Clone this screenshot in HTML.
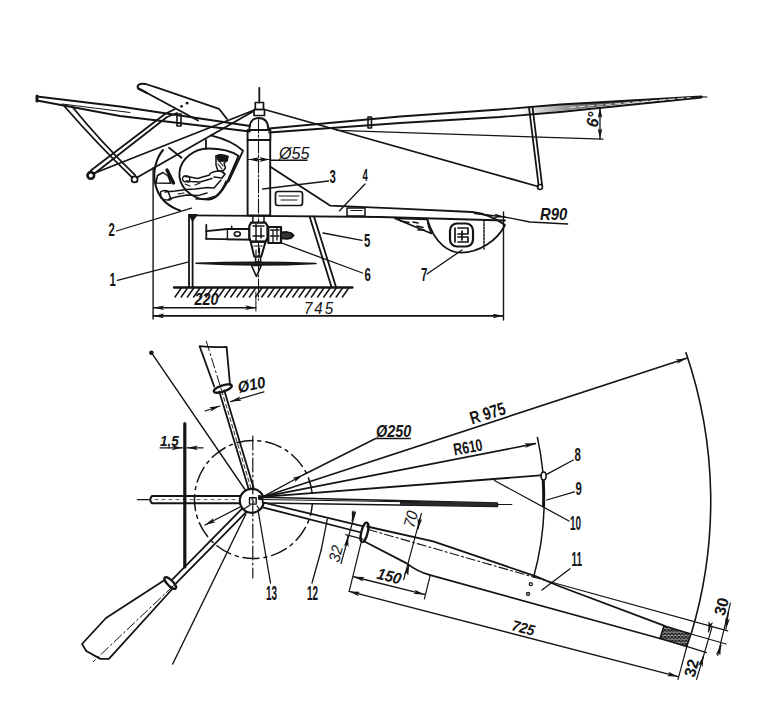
<!DOCTYPE html>
<html><head><meta charset="utf-8">
<style>
html,body{margin:0;padding:0;background:#fff;}
svg{display:block;}
text{font-family:"Liberation Sans",sans-serif;fill:#141414;}
</style></head>
<body>
<svg width="780" height="711" viewBox="0 0 780 711">
<defs>
<marker id="ar" viewBox="0 0 10 4.4" refX="10" refY="2.2" markerWidth="11" markerHeight="4.8" orient="auto-start-reverse" markerUnits="userSpaceOnUse">
<path d="M0,0 L10,2.2 L0,4.4 L2.5,2.2 Z" fill="#141414"/>
</marker>
<pattern id="hatch" width="3.5" height="3.5" patternUnits="userSpaceOnUse">
<rect width="3.5" height="3.5" fill="#bbb"/>
<path d="M0,0 L3.5,3.5 M3.5,0 L0,3.5" stroke="#141414" stroke-width="1.2"/>
</pattern>
<linearGradient id="bladeg" gradientUnits="userSpaceOnUse" x1="520" y1="0" x2="600" y2="0">
<stop offset="0" stop-color="#4a4a4a" stop-opacity="0"/>
<stop offset="1" stop-color="#4a4a4a" stop-opacity="1"/>
</linearGradient>
</defs>
<rect width="780" height="711" fill="#fff"/>
<g fill="none" stroke="#141414" stroke-width="1.8" stroke-linecap="round" stroke-linejoin="round">
<!-- ===== SIDE VIEW ===== -->
<!-- left blade -->
<path d="M37,96.5 L120,106.5 L250,126"/>
<path d="M37,100.5 L120,116 L250,131.5"/>
<path d="M62,104 L130,112.5" stroke-width="1"/>
<path d="M37,96 L37,101" stroke-width="3"/>
<rect x="177" y="114" width="4" height="12" stroke-width="1.6"/>
<!-- right blade -->
<path d="M520,107.5 L630,100 L701.5,96.3 L640,102 L520,115.3 Z" fill="url(#bladeg)" stroke="none"/>
<path d="M269,128.5 L400,116.5 L500,109.5 L560,104.5 L701.5,96.3"/>
<path d="M269,132.5 L400,123 L500,117 L560,112 L701.5,97.5"/>
<path d="M570,107.5 L690,97.5" stroke="#fff" stroke-width="0.8" stroke-dasharray="6,3"/>
<path d="M701.5,96.8 L707,97" stroke-width="1.2"/>
<rect x="368" y="117" width="3.5" height="11" stroke-width="1.6"/>
<!-- paddle blade -->
<path d="M145.5,84 L157,87.7 L219,108.8 L227,119"/>
<path d="M139,88.5 L147,93 L198,120.5"/>
<path d="M145.5,84 Q136,83 138,88.5 L147,93" stroke-width="2"/>
<circle cx="181.5" cy="106.3" r="1.4" fill="#141414" stroke="none"/>
<circle cx="187.1" cy="103.2" r="1.4" fill="#141414" stroke="none"/>
<!-- left struts -->
<path d="M64.2,106 Q95.9,142.6 132.3,177.7"/>
<path d="M72.9,107.5 Q101,142.1 135.4,175.4"/>
<path d="M90.8,170.5 L165,114 L175,109"/>
<path d="M94.5,173.5 L167,117 L177,113"/>
<circle cx="134.6" cy="179.4" r="3" stroke-width="1.7"/>
<circle cx="90.8" cy="175.4" r="3.3" stroke-width="2.6"/>
<path d="M93.5,173.5 L254.5,110"/>
<path d="M137,177.5 L253,111.5"/>
<!-- hub -->
<path d="M259.3,88 V102.5"/>
<rect x="255.3" y="102.5" width="8.2" height="7" stroke-width="1.7"/>
<rect x="254" y="109.5" width="10.5" height="6" stroke-width="1.7"/>
<path d="M249.3,130 Q249.3,118 258.7,118 Q268.3,118 268.3,130" stroke-width="1.9"/>
<rect x="247.6" y="130" width="22.8" height="10" stroke-width="1.9"/>
<rect x="247.6" y="140" width="22.6" height="75.5" stroke-width="1.9"/>
<path d="M258.5,119 V300" stroke-width="1.1" stroke-dasharray="14,2,2,2"/>
<!-- right lines -->
<path d="M264.5,109.5 L538,186.5"/>
<path d="M529,107.3 L538.5,184.5"/>
<path d="M532.5,107 L542,184.5"/>
<circle cx="540" cy="187" r="2.5" stroke-width="1.6"/>
<path d="M337,130.4 L603,139.2" stroke-width="1.3"/>
<path d="M600,107.5 V139" marker-start="url(#ar)" marker-end="url(#ar)" stroke-width="1.3"/>
<!-- fuselage -->
<path d="M163,150 C149,167 150,200 180,210.5" stroke-width="2"/>
<path d="M211,135.4 Q233,141 243,150.8 L228.5,181.5" stroke-width="1.9"/>
<path d="M169,147.7 L181.5,157.7"/>
<path d="M206,140 V148.5"/>
<path d="M209,199.5 C190,200 178,185 179.5,172 C181,158 195,148.5 208,148.5 C222,148.5 233,152 238.5,156 L227.5,181.5 C222,192 216,199 209,199.5" stroke-width="1.9"/>
<!-- pilot -->
<path d="M216,156 Q221,153.5 228,156.5 L227,161 L224,163 L225.5,168 L223,171 L218,171 L216,165 Z" stroke-width="1.5"/>
<path d="M216,156 Q221,153.5 228,156.5 L227,161 L219,161.5 Z" fill="#141414" stroke-width="1"/>
<path d="M218,164 L222,169 M220,162 L223,166" stroke-width="1.1"/>
<path d="M209.7,174 Q214,170.5 221,171 L225,174 L222,178 L214,177" stroke-width="1.6"/>
<path d="M209.7,175 L197.4,178.5 L190,177 L185,176.5 M212,178.5 L200,182 L191,181.5 L186,181" stroke-width="1.5"/>
<path d="M184,176 Q181,178.5 184,181.5 L189,182 Q191,178 188,176 Z" stroke-width="1.4"/>
<path d="M226,181 Q223,190 216,196 L206,199 L196,199" stroke-width="1.5"/>
<path d="M221,180 L214,188 L207.7,187.5 L195,189 L187,189.5 L175,191 L165,192" stroke-width="1.5"/>
<path d="M207,193 L198,195.6 L187,195 L176,197 L169,199" stroke-width="1.5"/>
<path d="M160.5,192 Q163,189.5 168,191 L171,199.5 Q165,201 161,198 Z" stroke-width="1.5"/>
<path d="M195,185 L200,183 M185,184 L190,186 M178,194 L184,193" stroke-width="1.1"/>
<path d="M167,170 L173.5,183" stroke-width="3.4"/>
<path d="M156,183 L157.5,175.5 L163,172.5 L168,176 L170.8,183.3 Z" stroke-width="1.5"/>
<!-- fuselage body -->
<path d="M270.4,166.7 L330,205.6 L400,208.7 L472,212 Q490,214 505,225"/>
<path d="M190,215.4 L380,217 L505,220.5"/>
<path d="M427.3,219.2 C435,245 450,252.7 461,252.7 C480,252.7 497,240 504.6,226"/>
<path d="M484,220 V249" stroke-dasharray="2,1.5" stroke-width="1.5"/>
<rect x="450" y="223.5" width="23" height="23" rx="7" stroke-width="2.2"/>
<path d="M455,228 V242 M458,228 H468 V234 H458 M458,237 H468 V242 H458 M462,231 V240" stroke-width="1.7"/>
<path d="M395,218.5 L427.3,219.5 Q428,227 431.5,233.5 Z" stroke-width="1.6"/>
<path d="M401,221 L409,222.5 M413,222 L418,223 M417,226 L423,227.5 M418,230 L424,230" stroke-width="1.6"/>
<rect x="275.5" y="191.5" width="27" height="14" rx="2.5" stroke-width="1.7"/>
<path d="M279,196 H299 M281,200 H297" stroke-width="1"/>
<rect x="347" y="208" width="18" height="8" stroke-width="1.5"/>
<path d="M351,210.5 H362" stroke-width="1.2"/>
<!-- landing gear -->
<path d="M189,287 V215 M192.6,287 V220" stroke-width="1.8"/>
<path d="M189,214.6 L197,214.6 L192.6,221 Z" fill="#141414" stroke-width="1.2"/>
<path d="M309.6,216.5 L331.5,287"/>
<path d="M314,216.5 L336,287"/>
<path d="M174,287.5 H352.5" stroke-width="2.3"/>
<path d="M175,297 L181,288.5 M181.2,297 L187.2,288.5 M187.4,297 L193.4,288.5 M193.6,297 L199.6,288.5 M199.8,297 L205.8,288.5 M206,297 L212,288.5 M212.2,297 L218.2,288.5 M218.4,297 L224.4,288.5 M224.6,297 L230.6,288.5 M230.8,297 L236.8,288.5 M237,297 L243,288.5 M243.2,297 L249.2,288.5 M249.4,297 L255.4,288.5 M255.6,297 L261.6,288.5 M261.8,297 L267.8,288.5 M268,297 L274,288.5 M274.2,297 L280.2,288.5 M280.4,297 L286.4,288.5 M286.6,297 L292.6,288.5 M292.8,297 L298.8,288.5 M299,297 L305,288.5 M305.2,297 L311.2,288.5 M311.4,297 L317.4,288.5 M317.6,297 L323.6,288.5 M323.8,297 L329.8,288.5 M330,297 L336,288.5 M336.2,297 L342.2,288.5 M342.4,297 L348.4,288.5" stroke-width="1.5"/>
<!-- engine -->
<path d="M252.8,215.6 V223 M264,215.6 V223" stroke-width="1.5"/>
<path d="M206.3,224.8 V238.9"/>
<path d="M206.3,231.2 L227.4,229 H249.3 M206.3,238.9 L249.3,239.6"/>
<rect x="227.4" y="229" width="21.9" height="10.6" stroke-width="1.4"/>
<path d="M231.7,226.2 V229" stroke-width="1.4"/>
<ellipse cx="237.3" cy="234" rx="3" ry="2.2" stroke-width="1.6"/>
<path d="M251,222.7 H265.5 L267.5,226 V238 L265.5,241.7 H251 L249.3,238 V226 Z" stroke-width="2.2" fill="#fff"/>
<path d="M253,226 H264 M253,236 H264 M256,224 V241 M261,228 V238" stroke-width="1.5"/>
<rect x="268.3" y="227" width="12.7" height="16" stroke-width="2.2"/>
<path d="M270.5,230 H279 M270.5,236 H279 M273,231 V242 M277,228 V240" stroke-width="1.3"/>
<path d="M281,232.5 L287,232 L291,233 L293.7,235.4 L291,238 L287,238.9 L281,238.3 Z" fill="#333" stroke-width="1.8"/>
<path d="M250.7,241.7 L265.5,241.7 L261.3,256.5 L254.2,256.5 Z" stroke-width="2"/>
<path d="M254,246 H262 M256,250 V255 M259.5,248 V255" stroke-width="1.2"/>
<rect x="255.6" y="256.5" width="5" height="5.5" stroke-width="1.6"/>
<path d="M196,263.2 Q256,261.2 316,263.4 Q256,266.6 196,263.2 Z" fill="#222" stroke-width="1.5"/>
<path d="M251.4,265.5 H261.3 L256.4,276.3 Z" stroke-width="1.6"/>
<!-- leaders side -->
<path d="M117.4,280.4 L187.8,262.2" stroke-width="1.3"/>
<path d="M116.5,231 L191.5,208.2" stroke-width="1.3"/>
<path d="M262.6,189 L328.5,181" stroke-width="1.3"/>
<path d="M365,184 L339.5,210.8" stroke-width="1.3"/>
<path d="M323,233 L362,240.4" stroke-width="1.3"/>
<path d="M280,242.4 L362.5,273" stroke-width="1.3"/>
<path d="M427,274 L462,250" stroke-width="1.3"/>
<!-- dims side -->
<path d="M153.1,168 V319" stroke-width="1.4"/>
<path d="M503.5,212 V320" stroke-width="1.4"/>
<path d="M255.9,292 V311"  stroke-width="1"/>
<path d="M153.5,307.7 H255.9" marker-start="url(#ar)" marker-end="url(#ar)" stroke-width="1.4"/>
<path d="M153.5,315.9 H503.2" marker-start="url(#ar)" marker-end="url(#ar)" stroke-width="1.6"/>
<path d="M270.8,160.2 H307" stroke-width="1.4"/>
<path d="M248.5,159.5 H270" marker-start="url(#ar)" marker-end="url(#ar)" stroke-width="1.2"/>
<path d="M474.6,213.5 L504.6,217" marker-end="url(#ar)" stroke-width="1.3"/>
<path d="M504.6,217 L530,222 L567.7,224" stroke-width="1.3"/>

<!-- ===== TOP VIEW ===== -->
<circle cx="253.5" cy="499.5" r="59" stroke-width="1.5" stroke-dasharray="16,5,3,5"/>
<!-- up blade -->
<path d="M219.3,391.5 L248.8,489.5"/>
<path d="M224.2,390.3 L253.7,488.3"/>
<path d="M221.7,390.8 L251.2,489" stroke-width="0.9" stroke-dasharray="4,3"/>
<ellipse cx="222.8" cy="388.5" rx="9.5" ry="3" transform="rotate(-19 222.8 388.5)" stroke-width="2.3"/>
<path d="M214.2,386.5 L199.6,346.2 Q213,347.5 226.6,346.8 L230,384.5"/>
<path d="M206.3,341.2 L221.7,390.8" stroke-width="1" stroke-dasharray="10,3,2,3"/>
<!-- lower-left blade -->
<path d="M241.8,508.8 L172.2,579.6"/>
<path d="M245.6,512.6 L176,583.4"/>
<ellipse cx="170.2" cy="583" rx="7.7" ry="2.8" transform="rotate(45 170.2 583)" stroke-width="2.3"/>
<path d="M163.9,580.6 L106,618 L82,644 L86.3,651 L100.4,658.9 L108.9,658.9 L172.3,589"/>
<path d="M173.7,585.5 L93.3,661.7" stroke-width="1" stroke-dasharray="10,3,2,3"/>
<!-- left spar -->
<path d="M240,496 H152 Q148.5,499.6 152,503.3 H240" stroke-width="2"/>
<path d="M155,499.6 H238" stroke-width="0.7" stroke-dasharray="3,4"/>
<path d="M137.5,499.6 H149" stroke-width="1.3"/>
<!-- hub -->
<circle cx="251.8" cy="500.8" r="12" stroke-width="2.2" fill="#fff"/>
<rect x="249.5" y="497.8" width="6.7" height="6.3" stroke-width="1.4"/>
<path d="M252,499.5 L254,502 M244,509 L250,505 M257,506 L260,510" stroke-width="1.2"/>
<path d="M258.8,495.5 L264,496.5 L263.5,500 L259,499.5 Z" fill="#141414" stroke-width="1"/>
<!-- right spar -->
<path d="M262.7,497.3 L497.4,503 L497.4,506.5 L262.7,503 Z" fill="#fff" stroke-width="1.6"/>
<path d="M400,500.8 L497.4,503 L497.4,506.5 L400,505.2 Z" fill="#2a2a2a" stroke="none"/>
<path d="M262.7,499.5 L420,502" stroke-width="1.1"/>
<path d="M497.4,504.5 H511.8" stroke-width="1.2"/>
<!-- lower right spar (12) -->
<path d="M262.7,502.3 L362.5,526.2"/>
<path d="M262.7,507.3 L361,532.5"/>
<ellipse cx="364.5" cy="532.3" rx="3.2" ry="10" transform="rotate(14 364.5 532.3)" stroke-width="2.3"/>
<!-- blade 11 -->
<path d="M367,526.5 L433.2,541.3 L535.4,576.2 L560,586.5 L664,625.6"/>
<path d="M364,541.3 L406.7,563.4 Q418,572 430.3,575.2 L660,638.5"/>
<path d="M664,625.8 L691,634 L686.7,646.4 L660,638.5 Z" fill="url(#hatch)" stroke-width="1.6"/>
<path d="M368.3,529.5 L549,581.5" stroke-width="1.1" stroke-dasharray="9,3,2,3"/>
<path d="M549,581.5 L727.7,630.8" stroke-width="1.2"/>
<circle cx="530.8" cy="584.2" r="1.5" stroke-width="1.3"/>
<circle cx="528" cy="594" r="1.5" stroke-width="1.3"/>
<!-- radial lines -->
<path d="M262.7,496.9 L686.6,358.3" marker-end="url(#ar)" stroke-width="1.6"/>
<path d="M262.7,496.9 L535.4,443.6" marker-end="url(#ar)" stroke-width="1.6"/>
<path d="M262.7,496.9 L540.5,475.4" stroke-width="1.9"/>
<path d="M262.7,496.9 L303,475" marker-end="url(#ar)" stroke-width="1.4"/>
<path d="M303,475 L375.6,438.5 H410.3" stroke-width="1.4"/>
<path d="M686,352.7 A459,459 0 0 1 691.5,632.8" stroke-width="1.6"/>
<path d="M537.4,437.4 A292.5,292.5 0 0 1 533.6,577.2" stroke-width="1.5"/>
<path d="M543.2,479.5 A292.5,292.5 0 0 1 543.6,506" stroke-width="3"/>
<ellipse cx="543.6" cy="476" rx="2.5" ry="4" stroke-width="1.6" fill="#fff"/>
<path d="M494.4,480.5 L569,521" stroke-width="1.3"/>
<path d="M546.7,474.4 L573.3,460" stroke-width="1.3"/>
<path d="M546.7,500 L574.4,491.8" stroke-width="1.3"/>
<path d="M542,590 L570,568.8" stroke-width="1.3"/>
<path d="M321.2,550 L327.3,519.2" stroke-width="1.3"/>
<path d="M312,583 L321.2,550" stroke-width="1.3"/>
<path d="M258,510 L270.5,583" stroke-width="1.3"/>
<!-- dims top view -->
<path d="M205,411 L219.8,406" marker-end="url(#ar)" stroke-width="1.2"/>
<path d="M264,391.8 L230.6,401.6" marker-end="url(#ar)" stroke-width="1.2"/>
<path d="M184.8,423.7 V567" stroke-width="3.2"/>
<path d="M160,447.8 H182.5" marker-end="url(#ar)" stroke-width="1.2"/>
<path d="M203,447.8 H187.2" marker-end="url(#ar)" stroke-width="1.2"/>
<path d="M151.4,352.7 L245.3,490" stroke-width="1.4"/>
<circle cx="151.4" cy="352.7" r="1.4" fill="#141414"/>
<path d="M246,513.8 L172.7,664" stroke-width="1.4"/>
<path d="M252.8,436 V578" stroke-width="1.2" stroke-dasharray="14,3,2,3"/>
<path d="M240,507 L205,525" marker-end="url(#ar)" stroke-width="1.3"/>
<path d="M349.2,591.4 L678,676.6" marker-start="url(#ar)" marker-end="url(#ar)" stroke-width="1.4"/>
<path d="M361,542.8 L349.2,591.4" stroke-width="1.2"/>
<path d="M353.6,576.7 L424.4,594.4" marker-start="url(#ar)" marker-end="url(#ar)" stroke-width="1.4"/>
<path d="M430.3,575.2 L424.4,598.8" stroke-width="1.2"/>
<path d="M421.4,513.3 L403.7,579.6" stroke-width="1.2"/>
<path d="M420,518 L418,529" marker-end="url(#ar)" stroke-width="1.2"/>
<path d="M407,572 L409,565" marker-end="url(#ar)" stroke-width="1.2"/>
<path d="M341,563.5 L355.2,512.8" stroke-width="1.2"/>
<path d="M354,511 L352,521" marker-end="url(#ar)" stroke-width="1.2"/>
<path d="M346.5,545 L348,536" marker-end="url(#ar)" stroke-width="1.2"/>
<path d="M345.8,534.6 L362.7,539.2" stroke-width="1.2"/>
<path d="M691,634 L726,644 M686.7,646.4 L706.4,652.6" stroke-width="1.2"/>
<path d="M730.4,603.2 L717.7,655.4" stroke-width="1.2"/>
<path d="M728.5,612 L726,629" marker-end="url(#ar)" stroke-width="1.2"/>
<path d="M719,652 L721,645" marker-end="url(#ar)" stroke-width="1.2"/>
<path d="M712,627.2 L696.6,679.4" stroke-width="1.2"/>
<path d="M710,625 L708.5,632" marker-end="url(#ar)" stroke-width="1.2"/>
<path d="M701,664 L703.5,656" marker-end="url(#ar)" stroke-width="1.2"/>
<path d="M686.7,647 L678,679.4" stroke-width="1.2"/>
</g>
<!-- text -->
<g font-size="19" font-weight="bold">
<text transform="translate(108.5,236) scale(0.6,1)">2</text>
<text transform="translate(109.5,285.7) scale(0.6,1)">1</text>
<text transform="translate(329.5,182.5) scale(0.6,1)">3</text>
<text transform="translate(362.5,181) scale(0.6,1)" font-size="16">4</text>
<text transform="translate(364,246.5) scale(0.6,1)">5</text>
<text transform="translate(364.5,280.5) scale(0.6,1)">6</text>
<text transform="translate(421,280.5) scale(0.6,1)">7</text>
<text transform="translate(574.5,460.5) scale(0.6,1)">8</text>
<text transform="translate(575.5,494.5) scale(0.6,1)">9</text>
<text transform="translate(570,529.5) scale(0.5,1)" font-size="20">10</text>
<text transform="translate(571.5,565.8) scale(0.5,1)" font-size="20">11</text>
<text transform="translate(307,599.5) scale(0.5,1)" font-size="20">12</text>
<text transform="translate(266,599.5) scale(0.5,1)" font-size="20">13</text>
</g>
<g font-size="15" font-style="italic" font-weight="bold">
<text transform="translate(279,158.6) scale(0.95,1)" font-size="17" font-weight="normal">Ø55</text>
<text transform="translate(194.5,305) scale(0.9,1)" font-size="16">220</text>
<text transform="translate(304,313.8) scale(0.95,1)" letter-spacing="2" font-weight="normal" font-size="16">745</text>
<text transform="translate(540,219.6) scale(0.9,1)" font-size="16.5">R90</text>
<text transform="translate(597.5,128) rotate(-80) scale(0.92,1)" font-size="17">6°</text>
<text transform="translate(376,436.5) scale(0.9,1)" font-size="16">Ø250</text>
<text transform="translate(239,393) rotate(-12) scale(0.92,1)" font-size="16">Ø10</text>
<text transform="translate(160,446.3) scale(0.9,1)" font-size="15">1,5</text>
<text transform="translate(414,528.5) rotate(-75) scale(0.92,1)" font-weight="normal" font-size="16">70</text>
<text transform="translate(339,563) rotate(-75) scale(0.92,1)" font-weight="normal" font-size="16">32</text>
<text transform="translate(376,578.5) rotate(14) scale(0.92,1)" font-size="16">150</text>
<text transform="translate(511,630) rotate(15) scale(0.92,1)">725</text>
<text transform="translate(724.5,616.5) rotate(-75)" font-family="Liberation Serif" font-style="normal" font-weight="bold" font-size="16">30</text>
<text transform="translate(694.5,678) rotate(-75)" font-family="Liberation Serif" font-style="normal" font-weight="bold" font-size="16">32</text>
</g>
<g font-size="15" font-weight="bold">
<text transform="translate(472,424.5) rotate(-17) scale(0.76,1)" font-size="18">R 975</text>
<text transform="translate(454.5,455.5) rotate(-10) scale(0.72,1)" font-size="17">R610</text>
</g>
</svg>
</body></html>
